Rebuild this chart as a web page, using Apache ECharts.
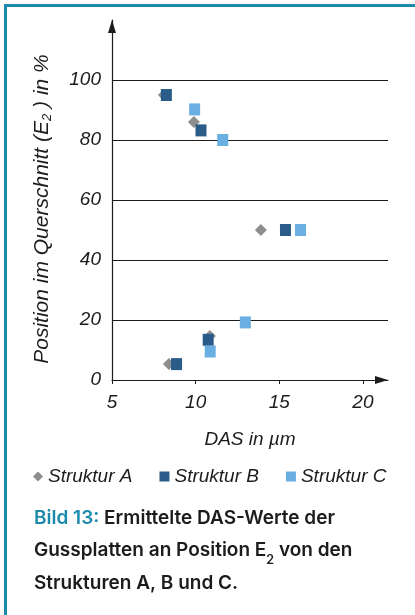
<!DOCTYPE html>
<html><head><meta charset="utf-8">
<script src="https://cdn.jsdelivr.net/npm/echarts@6/dist/echarts.min.js"></script>
<style>html,body{margin:0;padding:0;background:#fff}#c{width:415px;height:615px}</style>
</head><body><div id="c"></div>
<script>
const seriesNames = ['Struktur A', 'Struktur B', 'Struktur C'];
const strukturA = [[8.1, 95], [9.9, 86], [13.9, 50], [10.85, 14.7], [8.4, 5.3]];
const strukturB = [[8.25, 95], [10.32, 83.2], [15.37, 50], [10.75, 13.4], [8.86, 5.3]];
const strukturC = [[9.94, 90.2], [11.62, 80], [16.27, 50], [12.97, 19.2], [10.87, 9.5]];
const xTicks = [5, 10, 15, 20];
const yTicks = [0, 20, 40, 60, 80, 100];

const FONT = '"Liberation Sans", Arial, sans-serif';
const CAPFONT = 'Inter';
const INK = '#1c1c1c';
const TEAL = '#1b8aab';
const colors = ['#8e8e8e', '#2b5b88', '#6aafe2'];

const chart = echarts.init(document.getElementById('c'), null, {renderer: 'canvas'});
const italic = {fontFamily: FONT, fontStyle: 'italic', fontWeight: 'normal', fontSize: 19, color: INK};

chart.setOption({
  animation: false,
  backgroundColor: '#fff',
  grid: {left: 112, top: 20, width: 276, height: 360, containLabel: false, outerBoundsMode: 'none'},
  xAxis: {
    type: 'value', min: 5, max: 21.5, interval: 5,
    name: 'DAS in µm', nameLocation: 'middle', nameGap: 50,
    nameTextStyle: Object.assign({}, italic),
    axisLine: {show: true, lineStyle: {color: INK, width: 1.2}, symbol: ['none', 'triangle'], symbolSize: [8, 13], symbolOffset: [0, -6.5]},
    axisTick: {show: true, customValues: xTicks, length: 4, lineStyle: {color: INK}},
    axisLabel: Object.assign({customValues: xTicks, margin: 13}, italic),
    splitLine: {show: false}
  },
  yAxis: {
    type: 'value', min: 0, max: 120, interval: 20,
    name: '{m|Position im Querschnitt (E}{s|2}{m| ) in %}', nameLocation: 'middle', nameGap: 58, nameRotate: 90,
    nameTextStyle: {
      padding: [0, 18, 0, 0],
      rich: {
        m: Object.assign({}, italic, {fontSize: 21, lineHeight: 24, verticalAlign: 'middle'}),
        s: Object.assign({}, italic, {fontSize: 13, lineHeight: 13, verticalAlign: 'bottom'})
      }
    },
    axisLine: {show: true, lineStyle: {color: INK, width: 1.2}, symbol: ['none', 'triangle'], symbolSize: [8, 13], symbolOffset: [0, -6.5]},
    axisTick: {show: false},
    axisLabel: Object.assign({customValues: yTicks, margin: 11}, italic),
    splitLine: {show: true, lineStyle: {width: 1, color: [INK, INK, INK, INK, INK, INK, 'rgba(0,0,0,0)']}}
  },
  legend: {
    left: 33, top: 467, padding: 0, itemGap: 27, itemWidth: 10, itemHeight: 10,
    textStyle: Object.assign({}, italic),
    data: seriesNames
  },
  series: [
    {name: seriesNames[0], type: 'scatter', data: strukturA, symbol: 'diamond', symbolSize: [12, 12], itemStyle: {color: colors[0], opacity: 1}},
    {name: seriesNames[1], type: 'scatter', data: strukturB, symbol: 'rect', symbolSize: [11, 12], itemStyle: {color: colors[1], opacity: 1}},
    {name: seriesNames[2], type: 'scatter', data: strukturC, symbol: 'rect', symbolSize: [11, 12], itemStyle: {color: colors[2], opacity: 1}}
  ],
  graphic: [
    {type: 'rect', shape: {x: 4, y: 4, width: 411, height: 3}, style: {fill: TEAL}, silent: true},
    {type: 'rect', shape: {x: 4, y: 4, width: 3, height: 611}, style: {fill: TEAL}, silent: true},
    {
      type: 'text', x: 34, y: 502, silent: true,
      style: {
        text: '{t|Bild 13:}{m| Ermittelte DAS-Werte der}\n{m|Gussplatten an Position E}{s|2}{m| von den}\n{m|Strukturen A, B und C.}',
        fontFamily: CAPFONT, fontSize: 19, fontWeight: 600, fill: INK, lineHeight: 32.5,
        verticalAlign: 'top', align: 'left',
        rich: {
          t: {fill: TEAL, fontFamily: CAPFONT, fontSize: 19, fontWeight: 600, lineHeight: 32.5},
          m: {fill: INK, fontFamily: CAPFONT, fontSize: 19, fontWeight: 600, lineHeight: 32.5},
          s: {fill: INK, fontFamily: CAPFONT, fontSize: 12.5, fontWeight: 600, lineHeight: 21, verticalAlign: 'bottom'}
        }
      }
    }
  ]
});
</script>
</body></html>
